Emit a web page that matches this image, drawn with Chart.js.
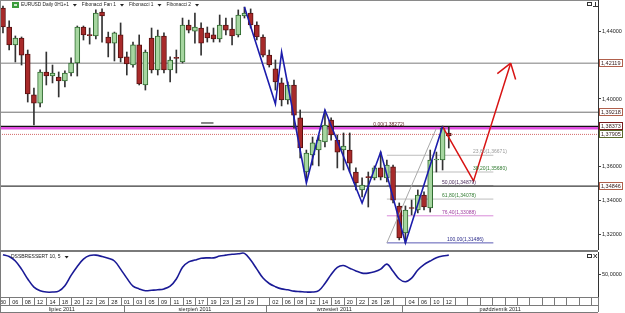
<!DOCTYPE html>
<html>
<head>
<meta charset="utf-8">
<script src="https://cdn.jsdelivr.net/npm/chart.js@4.4.1/dist/chart.umd.min.js"></script>
<style>
html, body { margin: 0; padding: 0; background: #fff; overflow: hidden; }
#wrap { position: relative; width: 625px; height: 313px; }
canvas { position: absolute; left: 0; }
#main { top: 0; }
#osc { top: 250px; }
</style>
</head>
<body>
<div id="wrap">
  <canvas id="main" width="625" height="250"></canvas>
  <canvas id="osc" width="625" height="63"></canvas>
</div>
<script>
// daily EURUSD candles, 30 Jun .. 12 Oct 2011
const opens = [1.4538,1.4426,1.4320,1.4361,1.4266,1.4024,1.3976,1.4160,1.4136,1.4130,
  1.4107,1.4154,1.4213,1.4426,1.4379,1.4373,1.4515,1.4367,1.4331,1.4379,
  1.4249,1.4201,1.4320,1.4083,1.4361,1.4172,1.4373,1.4172,1.4243,1.4219,
  1.4438,1.4402,1.4420,1.4391,1.4379,1.4355,1.4438,1.4414,1.4379,1.4491,
  1.4509,1.4438,1.4367,1.4260,1.4178,1.4095,1.3994,1.4083,1.3888,1.3568,
  1.3669,1.3698,1.3746,1.3876,1.3757,1.3698,1.3698,1.3568,1.3462,1.3538,
  1.3533,1.3592,1.3533,1.3598,1.3367,1.3207,1.3355,1.3343,1.3432,1.3355,
  1.3639,1.3639,1.3799];
const highs = [1.4550,1.4462,1.4373,1.4367,1.4290,1.4065,1.4172,1.4278,1.4201,1.4160,
  1.4166,1.4243,1.4432,1.4432,1.4420,1.4527,1.4533,1.4396,1.4396,1.4450,
  1.4278,1.4337,1.4379,1.4290,1.4420,1.4408,1.4391,1.4249,1.4290,1.4479,
  1.4467,1.4509,1.4450,1.4426,1.4420,1.4497,1.4479,1.4479,1.4527,1.4544,
  1.4533,1.4456,1.4379,1.4290,1.4231,1.4124,1.4101,1.4112,1.3935,1.3698,
  1.3775,1.3787,1.3935,1.3888,1.3787,1.3799,1.3799,1.3592,1.3533,1.3568,
  1.3604,1.3686,1.3639,1.3609,1.3385,1.3367,1.3402,1.3462,1.3450,1.3698,
  1.3686,1.3840,1.3834];
const lows = [1.4391,1.4290,1.4219,1.4201,1.3982,1.3846,1.3953,1.4083,1.4095,1.4012,
  1.4071,1.4136,1.4136,1.4349,1.4325,1.4355,1.4337,1.4249,1.4225,1.4219,
  1.4142,1.4189,1.4083,1.4053,1.4154,1.4142,1.4154,1.4101,1.4154,1.4213,
  1.4391,1.4331,1.4260,1.4337,1.4337,1.4337,1.4379,1.4320,1.4367,1.4479,
  1.4420,1.4349,1.4249,1.4189,1.4053,1.3959,1.3970,1.3828,1.3651,1.3521,
  1.3609,1.3604,1.3716,1.3757,1.3592,1.3580,1.3568,1.3462,1.3420,1.3361,
  1.3521,1.3521,1.3509,1.3385,1.3166,1.3148,1.3314,1.3326,1.3343,1.3331,
  1.3568,1.3580,1.3710];
const closes = [1.4426,1.4320,1.4361,1.4260,1.4030,1.3976,1.4160,1.4136,1.4154,1.4107,
  1.4154,1.4213,1.4426,1.4379,1.4375,1.4509,1.4491,1.4331,1.4391,1.4243,
  1.4207,1.4320,1.4089,1.4278,1.4172,1.4373,1.4172,1.4231,1.4240,1.4438,
  1.4408,1.4426,1.4331,1.4361,1.4355,1.4438,1.4408,1.4373,1.4497,1.4509,
  1.4438,1.4367,1.4260,1.4201,1.4101,1.3994,1.4083,1.3905,1.3710,1.3680,
  1.3740,1.3757,1.3846,1.3787,1.3686,1.3722,1.3621,1.3503,1.3491,1.3535,
  1.3592,1.3538,1.3609,1.3402,1.3178,1.3343,1.3352,1.3432,1.3361,1.3639,
  1.3645,1.3828,1.3781];

// DSS Bressert (10,5), one value per candle
const dss = [94,90,80,62,40,22,14,11,11,13,25,48,68,84,92,93,90,86,80,62,
  42,24,18,14,15,16,18,24,40,66,78,82,86,87,87,91,93,95,96,97,
  82,62,42,30,23,18,16,13,12,11,11,14,30,50,66,70,64,58,53,53,
  56,62,73,57,40,34,42,60,72,80,87,91,93];

// day labels on every second candle, month names with first candle index
const dayLabels = ["30","06","08","12","14","18","20","22","26","28","01","03","05","09","11","15","17","19","23","25",
  "29","","02","06","08","12","14","16","20","22","26","28","","04","06","10","12"];
const monthLabels = ["lipiec 2011", "sierpień 2011", "wrzesień 2011", "październik 2011"];
const monthStarts = [0, 20, 43, 65];

// price axis
const priceTicks = [1.32, 1.34, 1.36, 1.40, 1.44];
const levelPrices = [1.42119, 1.39218, 1.38373, 1.37905, 1.34846];

// fibonacci retracement
const fibRatios = ["0,00", "23,60", "38,20", "50,00", "61,80", "76,40", "100,00"];
const fibPrices = [1.38272, 1.36671, 1.35680, 1.34879, 1.34078, 1.33088, 1.31486];

// drawn lines (candle index, price)
const zigIdx = [39, 44, 45, 49, 52, 58, 61, 65, 71];
const zigPrice = [1.4544, 1.3970, 1.4278, 1.3503, 1.3935, 1.3385, 1.3686, 1.3148, 1.3837];
const projIdx = [71, 76, 82];
const projPrice = [1.3837, 1.3515, 1.4212];
const diagIdx = [62, 70];
const diagPrice = [1.31486, 1.38272];

const headerItems = ['EURUSD Daily 0H1+1', 'Fibonacci Fan 1', 'Fibonacci 1', 'Fibonacci 2'];

const X_MIN = -0.48, X_MAX = 96.1;
const P_MIN = 1.31065, P_MAX = 1.45858;
const FAM = '"Liberation Sans", Arial, sans-serif';
const font = s => s + 'px ' + FAM;
const fmt = (v, d) => v.toFixed(d).replace('.', ',');

const levelStyle = [
  { color: '#a8a8a8', width: 1.5 },
  { color: '#6e6e6e', width: 1 },
  { color: '#111', width: 1.5 },
  { color: '#d46a6a', width: 1, dash: [1, 1] },
  { color: '#3a3a3a', width: 1.2 }
];
const tagBorder = ['#b0604c', '#b0604c', '#7a1c1c', '#5c6a2c', '#b0604c'];
const fibLine = ['#e24fe2', '#bdbdbd', '#bdbdbd', '#bdbdbd', '#bdbdbd', '#d98ad9', '#5a5ab4'];
const fibText = ['#5a1a1a', '#9a9a9a', '#2f7a2f', '#4a2a5a', '#2f7a2f', '#a040a0', '#2a2a8a'];
const fibTextAt = [59.8, 75.9, 75.9, 70.9, 70.9, 70.9, 71.7];
const FIB_FROM = 62, FIB_TO = 79.2;

function hline(p, x0, x1, color, width, dash, order) {
  return {
    type: 'line', data: [{ x: x0, y: p }, { x: x1, y: p }],
    borderColor: color, borderWidth: width, borderDash: dash || [],
    pointRadius: 0, order: order
  };
}

function tri(ctx, x, y) {
  ctx.beginPath();
  ctx.moveTo(x - 2, y - 1);
  ctx.lineTo(x + 2, y - 1);
  ctx.lineTo(x, y + 1.5);
  ctx.closePath();
  ctx.fill();
}

const datasets = [];
datasets.push({
  type: 'line', order: 0,
  data: zigIdx.map((v, i) => ({ x: v, y: zigPrice[i] })),
  borderColor: '#1c1cac', borderWidth: 1.6, pointRadius: 0
});
datasets.push({
  type: 'line', order: 0,
  data: projIdx.map((v, i) => ({ x: v, y: projPrice[i] })),
  borderColor: '#d81414', borderWidth: 1.5, pointRadius: 0
});
datasets.push({
  type: 'line', order: 1,
  data: diagIdx.map((v, i) => ({ x: v, y: diagPrice[i] })),
  borderColor: '#a8a8a8', borderWidth: 1, pointRadius: 0
});
datasets.push({
  type: 'bar', order: 2, grouped: false,
  data: opens.map((o, i) => ({ x: i, y: [o, closes[i]] })),
  backgroundColor: opens.map((o, i) => closes[i] >= o ? '#a6d6a0' : '#a82a2a'),
  borderColor: opens.map((o, i) => closes[i] >= o ? '#2e6a2e' : '#5a1212'),
  borderWidth: 1, borderSkipped: false, barThickness: 5, minBarLength: 1
});
datasets.push({
  type: 'bar', order: 3, grouped: false,
  data: lows.map((l, i) => ({ x: i, y: [l, highs[i]] })),
  backgroundColor: '#333', borderWidth: 0, barThickness: 1
});
levelPrices.forEach((p, k) => {
  const s = levelStyle[k];
  datasets.push(hline(p, X_MIN, X_MAX, s.color, s.width, s.dash, 5));
});
fibPrices.forEach((p, k) => {
  if (k === 0) datasets.push(hline(p, X_MIN, X_MAX, fibLine[k], 2.5, null, 4));
  else datasets.push(hline(p, FIB_FROM, FIB_TO, fibLine[k], 1, null, 6));
});
datasets.push(hline(1.3858, 32, 34, '#111', 1, null, 6));

const mainDecor = {
  id: 'mainDecor',
  afterDraw(chart) {
    const ctx = chart.ctx, a = chart.chartArea, x = chart.scales.x, y = chart.scales.y;
    ctx.save();
    // frame
    ctx.strokeStyle = '#8a8a8a';
    ctx.lineWidth = 1;
    ctx.beginPath();
    ctx.moveTo(0.5, 0); ctx.lineTo(0.5, a.bottom);
    ctx.moveTo(0, 0.5); ctx.lineTo(a.right, 0.5);
    ctx.stroke();

    // header
    ctx.fillStyle = '#3c9c3c';
    ctx.fillRect(12, 2, 7, 6);
    ctx.fillStyle = '#cfe8cf';
    ctx.fillRect(14, 4, 3, 2);
    ctx.font = font(4.8);
    ctx.textBaseline = 'middle';
    ctx.textAlign = 'left';
    let hx = 21;
    headerItems.forEach(t => {
      ctx.fillStyle = '#222';
      ctx.fillText(t, hx, 5);
      hx += ctx.measureText(t).width + 6;
      tri(ctx, hx, 5);
      hx += 7;
    });

    // fibonacci labels
    ctx.font = font(5);
    ctx.textBaseline = 'alphabetic';
    fibPrices.forEach((p, k) => {
      ctx.fillStyle = fibText[k];
      ctx.fillText(fibRatios[k] + '(' + fmt(p, 5) + ')', x.getPixelForValue(fibTextAt[k]), y.getPixelForValue(p) - 2);
    });

    // arrow head on the projection path
    const meta = chart.getDatasetMeta(1).data;
    const tip = meta[meta.length - 1], prev = meta[meta.length - 2];
    const ang = Math.atan2(prev.y - tip.y, prev.x - tip.x);
    ctx.strokeStyle = '#d81414';
    ctx.lineWidth = 1.5;
    ctx.beginPath();
    [-0.6, 0.6].forEach(d => {
      ctx.moveTo(tip.x, tip.y);
      ctx.lineTo(tip.x + 17 * Math.cos(ang + d), tip.y + 17 * Math.sin(ang + d));
    });
    ctx.stroke();

    // price tags on the right axis
    ctx.font = font(5.5);
    ctx.textBaseline = 'middle';
    ctx.lineWidth = 1;
    levelPrices.forEach((p, k) => {
      const yy = Math.round(y.getPixelForValue(p));
      ctx.fillStyle = '#fff';
      ctx.fillRect(599, yy - 4, 24, 8);
      ctx.strokeStyle = tagBorder[k];
      ctx.strokeRect(599.5, yy - 3.5, 23, 7);
      ctx.fillStyle = '#3a2222';
      ctx.fillText(fmt(p, 5), 601, yy + 0.5);
    });

    // window icons
    ctx.strokeStyle = '#333';
    ctx.strokeRect(587.5, 2.5, 4, 3);
    ctx.beginPath();
    ctx.moveTo(593, 6.5); ctx.lineTo(598, 6.5);
    ctx.moveTo(595.5, 2); ctx.lineTo(595.5, 6.5);
    ctx.stroke();
    ctx.restore();
  }
};

new Chart(document.getElementById('main'), {
  type: 'bar',
  data: { datasets: datasets },
  options: {
    responsive: false,
    animation: false,
    events: [],
    layout: { padding: 0 },
    plugins: { legend: { display: false }, tooltip: { enabled: false } },
    scales: {
      x: { type: 'linear', min: X_MIN, max: X_MAX, offset: false, display: false },
      y: {
        position: 'right', min: P_MIN, max: P_MAX,
        afterBuildTicks: s => { s.ticks = priceTicks.map(v => ({ value: v })); },
        afterFit: s => { s.width = 27; s.paddingTop = 0; s.paddingBottom = 0; },
        ticks: { callback: v => fmt(v, 5), font: { size: 5.5, family: FAM }, color: '#222', padding: 1 },
        grid: { drawOnChartArea: false, drawTicks: true, tickLength: 3, color: '#444' },
        border: { display: true, color: '#333', dash: [1, 1] }
      }
    }
  },
  plugins: [mainDecor]
});

const oscDecor = {
  id: 'oscDecor',
  afterDraw(chart) {
    const ctx = chart.ctx, a = chart.chartArea, x = chart.scales.x;
    const r1 = a.bottom, r2 = a.bottom + 8, r3 = chart.height - 1;
    ctx.save();
    ctx.strokeStyle = '#7a7a7a';
    ctx.lineWidth = 1;
    ctx.beginPath();
    ctx.moveTo(0, 0.5); ctx.lineTo(a.right, 0.5);
    ctx.moveTo(0, 1.5); ctx.lineTo(a.right, 1.5);
    ctx.moveTo(0.5, 0); ctx.lineTo(0.5, r3);
    ctx.moveTo(0, r1 + 0.5); ctx.lineTo(a.right, r1 + 0.5);
    ctx.moveTo(0, r2 + 0.5); ctx.lineTo(a.right, r2 + 0.5);
    ctx.moveTo(0, r3 + 0.5); ctx.lineTo(a.right, r3 + 0.5);
    ctx.moveTo(a.right + 0.5, r1); ctx.lineTo(a.right + 0.5, r3);
    for (let i = 1; i < X_MAX; i += 2) {
      const px = Math.round(x.getPixelForValue(i)) + 0.5;
      ctx.moveTo(px, r1); ctx.lineTo(px, r2);
    }
    monthStarts.forEach(s => {
      if (s === 0) return;
      const px = Math.round(x.getPixelForValue(s - 0.5)) + 0.5;
      ctx.moveTo(px, r2); ctx.lineTo(px, r3);
    });
    ctx.stroke();

    ctx.font = font(5.5);
    ctx.fillStyle = '#222';
    ctx.textAlign = 'center';
    ctx.textBaseline = 'middle';
    monthLabels.forEach((m, k) => {
      const from = k === 0 ? X_MIN : monthStarts[k] - 0.5;
      const to = k + 1 < monthStarts.length ? monthStarts[k + 1] - 0.5 : X_MAX;
      ctx.fillText(m, (x.getPixelForValue(from) + x.getPixelForValue(to)) / 2, (r2 + r3) / 2 + 0.5);
    });

    ctx.textAlign = 'left';
    ctx.font = font(5);
    ctx.fillText('DSSBRESSERT 10, 5', 11, 7);
    tri(ctx, 11 + ctx.measureText('DSSBRESSERT 10, 5').width + 6, 7);

    ctx.strokeStyle = '#333';
    ctx.strokeRect(587.5, 4.5, 4, 3);
    ctx.beginPath();
    ctx.moveTo(593.5, 4); ctx.lineTo(597, 8);
    ctx.moveTo(597, 4); ctx.lineTo(593.5, 8);
    ctx.stroke();
    ctx.restore();
  }
};

new Chart(document.getElementById('osc'), {
  type: 'line',
  data: {
    datasets: [{
      data: dss.map((v, i) => ({ x: i, y: v })),
      borderColor: '#1a1a96', borderWidth: 1.6, pointRadius: 0, tension: 0.35
    }]
  },
  options: {
    responsive: false,
    animation: false,
    events: [],
    layout: { padding: { top: 2, left: 0, right: 0, bottom: 0 } },
    plugins: { legend: { display: false }, tooltip: { enabled: false } },
    scales: {
      x: {
        type: 'linear', min: X_MIN, max: X_MAX, offset: false,
        afterBuildTicks: s => {
          const t = [];
          for (let i = 0; i <= 94; i += 2) t.push({ value: i });
          s.ticks = t;
        },
        afterFit: s => { s.height = 16; s.paddingLeft = 0; s.paddingRight = 0; },
        ticks: {
          autoSkip: false, maxRotation: 0, minRotation: 0, padding: 2,
          font: { size: 5.5, family: FAM }, color: '#222',
          callback: v => (v % 2 === 0 && v / 2 < dayLabels.length) ? dayLabels[v / 2] : ''
        },
        grid: { drawOnChartArea: false, drawTicks: false },
        border: { display: false }
      },
      y: {
        position: 'right', min: 0, max: 100,
        afterBuildTicks: s => { s.ticks = [{ value: 50 }]; },
        afterFit: s => { s.width = 27; s.paddingTop = 0; s.paddingBottom = 0; },
        ticks: { callback: () => '50,0000', font: { size: 5.5, family: FAM }, color: '#222', padding: 1 },
        grid: { drawOnChartArea: false, drawTicks: true, tickLength: 3, color: '#444' },
        border: { display: true, color: '#333', dash: [1, 1] }
      }
    }
  },
  plugins: [oscDecor]
});
</script>
</body>
</html>
